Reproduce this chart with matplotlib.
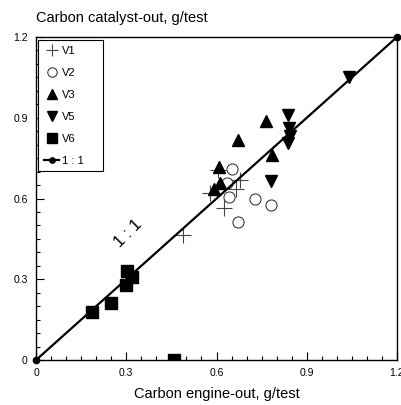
import numpy as np
import matplotlib.pyplot as plt
from matplotlib.ticker import MultipleLocator

plt.rcParams['font.family'] = ['Liberation Sans', 'DejaVu Sans']

#---------------------- data (g/test) ----------------------
v1_x = [0.49, 0.606, 0.578, 0.625, 0.665, 0.678]
v1_y = [0.464, 0.706, 0.621, 0.563, 0.634, 0.669]

v2_x = [0.650, 0.636, 0.642, 0.728, 0.780, 0.673]
v2_y = [0.708, 0.656, 0.604, 0.597, 0.576, 0.511]

v3_x = [0.608, 0.612, 0.590, 0.786, 0.765, 0.671]
v3_y = [0.716, 0.656, 0.635, 0.761, 0.889, 0.817]

v5_x = [1.041, 0.837, 0.842, 0.844, 0.836, 0.780]
v5_y = [1.052, 0.910, 0.861, 0.832, 0.805, 0.666]

v6_x = [0.185, 0.248, 0.299, 0.301, 0.318, 0.460]
v6_y = [0.179, 0.213, 0.279, 0.332, 0.310, 0.0]

one_to_one = [0.0, 1.2]
ticks = [0, 0.3, 0.6, 0.9, 1.2]
tick_labels = ['0', '0.3', '0.6', '0.9', '1.2']

#---------------------- plot ----------------------
fig = plt.figure(figsize=(4.02, 4.05), dpi=100)
ax = fig.add_axes([0.0896, 0.111, 0.898, 0.7976])

ax.plot(v1_x, v1_y, '+', color='#444444', ms=11, mew=0.8, ls='none', label='V1')
ax.plot(v2_x, v2_y, 'o', mfc='white', mec='#222222', ms=8, mew=0.7, ls='none', label='V2')
ax.plot(v3_x, v3_y, '^', color='black', ms=8, ls='none', label='V3')
ax.plot(v5_x, v5_y, 'v', color='black', ms=8, ls='none', label='V5')
ax.plot(v6_x, v6_y, 's', color='black', ms=8, ls='none', label='V6')
ax.plot(one_to_one, one_to_one, '-o', color='black', lw=1.6, ms=4.5,
        label='1 : 1', clip_on=False, zorder=5)

ax.text(0.305, 0.47, '1 : 1', rotation=45, fontsize=12,
        ha='center', va='center')

ax.set_xlim(0, 1.2)
ax.set_ylim(0, 1.2)
ax.set_xticks(ticks)
ax.set_xticklabels(tick_labels)
ax.set_yticks(ticks)
ax.set_yticklabels(tick_labels)
ax.xaxis.set_minor_locator(MultipleLocator(0.05))
ax.yaxis.set_minor_locator(MultipleLocator(0.05))
ax.tick_params(which='both', direction='in', top=False, right=False,
               labelsize=7.5, width=0.8)
ax.tick_params(which='major', length=6, pad=6)
ax.tick_params(which='minor', length=3)
for s in ax.spines.values():
    s.set_linewidth(1.0)

ax.set_xlabel('Carbon engine-out, g/test', fontsize=10.5, labelpad=6)
fig.text(0.0896, 0.945, 'Carbon catalyst-out, g/test', fontsize=10.5,
         ha='left', va='baseline')

leg = ax.legend(loc='upper left', bbox_to_anchor=(0.006, 0.0, 0.18, 0.99),
                mode='expand', borderaxespad=0, fontsize=8, frameon=True,
                fancybox=False, edgecolor='black', framealpha=1,
                handlelength=1.4, handletextpad=0.2, labelspacing=1.08,
                borderpad=0.5, markerscale=0.85, numpoints=1)
leg.get_frame().set_linewidth(0.8)

plt.savefig('out.png', dpi=100)
